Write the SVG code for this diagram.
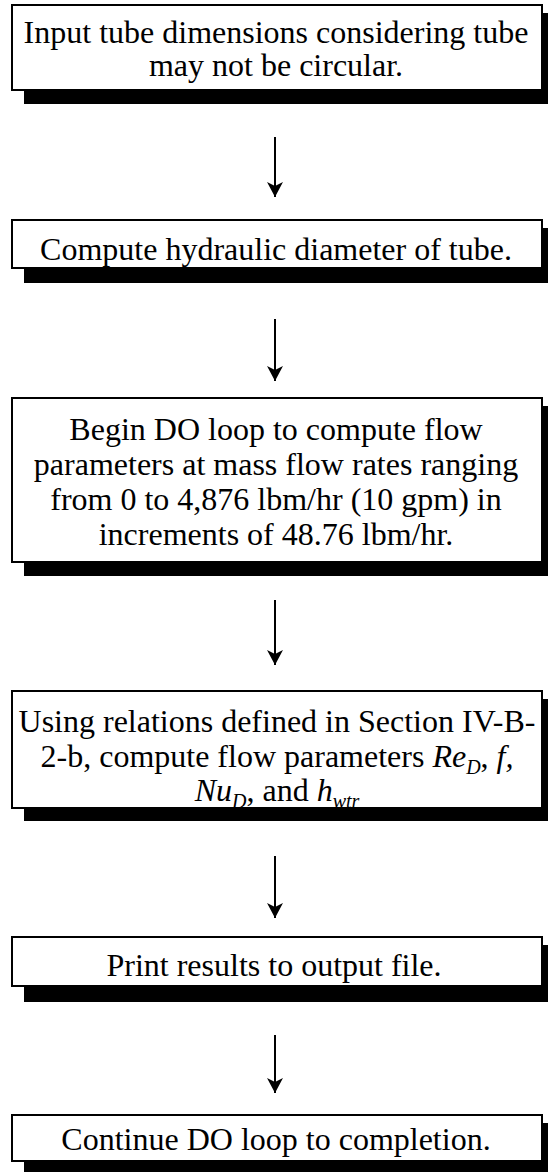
<svg xmlns="http://www.w3.org/2000/svg" width="549" height="1172" viewBox="0 0 549 1172">
<defs>
<style>
.shadow{fill:#000}
.box{fill:#fff;stroke:#000;stroke-width:2}
.t{font-family:"Liberation Serif","Times New Roman",serif;font-size:32px;fill:#000;text-anchor:middle}
.i{font-style:italic}
.conn line{stroke:#000;stroke-width:2;marker-end:url(#ah)}
</style>
<marker id="ah" markerUnits="userSpaceOnUse" markerWidth="18" markerHeight="18" viewBox="-1 -9 17 18" refX="15" refY="0" orient="auto">
<path d="M0,-8 L15,0 L0,8 L4,0 Z" fill="#000"/>
</marker>
</defs>
<rect width="549" height="1172" fill="#fff"/>
<g id="node1">
<rect class="shadow" x="24" y="13" width="524" height="91"/>
<rect class="box" x="12" y="5" width="530" height="85"/>
<text class="t" x="276" y="43">Input tube dimensions considering tube</text>
<text class="t" x="276" y="76">may not be circular.</text>
</g>
<g id="node2">
<rect class="shadow" x="24" y="228" width="524" height="55"/>
<rect class="box" x="12" y="220" width="530" height="48"/>
<text class="t" x="276" y="260">Compute hydraulic diameter of tube.</text>
</g>
<g id="node3">
<rect class="shadow" x="24" y="406" width="524" height="170"/>
<rect class="box" x="12" y="398" width="530" height="164"/>
<text class="t" x="276" y="440">Begin DO loop to compute flow</text>
<text class="t" x="276" y="475">parameters at mass flow rates ranging</text>
<text class="t" x="276" y="510">from 0 to 4,876 lbm/hr (10 gpm) in</text>
<text class="t" x="276" y="545">increments of 48.76 lbm/hr.</text>
</g>
<g id="node4">
<rect class="shadow" x="24" y="699" width="524" height="122"/>
<rect class="box" x="12" y="691" width="530" height="117"/>
<text class="t" x="277" y="732">Using relations defined in Section IV-B-</text>
<text class="t" x="277" y="767">2-b, compute flow parameters <tspan class="i">Re</tspan><tspan class="i" font-size="20" dy="7">D</tspan><tspan dy="-7">, </tspan><tspan class="i">f,</tspan></text>
<text class="t" x="277" y="801"><tspan class="i">Nu</tspan><tspan class="i" font-size="20" dy="7">D</tspan><tspan dy="-7">, and </tspan><tspan class="i">h</tspan><tspan class="i" font-size="20" dy="7">wtr</tspan></text>
</g>
<g id="node5">
<rect class="shadow" x="24" y="945" width="524" height="57"/>
<rect class="box" x="12" y="937" width="530" height="49"/>
<text class="t" x="274" y="976">Print results to output file.</text>
</g>
<g id="node6">
<rect class="shadow" x="24" y="1123" width="524" height="51"/>
<rect class="box" x="12" y="1115" width="530" height="46"/>
<text class="t" x="276" y="1150">Continue DO loop to completion.</text>
</g>
<g id="connectors" class="conn">
<line x1="275" y1="137" x2="275" y2="197"/>
<line x1="275" y1="319" x2="275" y2="381"/>
<line x1="275" y1="600" x2="275" y2="665"/>
<line x1="275" y1="856" x2="275" y2="918"/>
<line x1="275" y1="1035" x2="275" y2="1093"/>
</g>
</svg>
